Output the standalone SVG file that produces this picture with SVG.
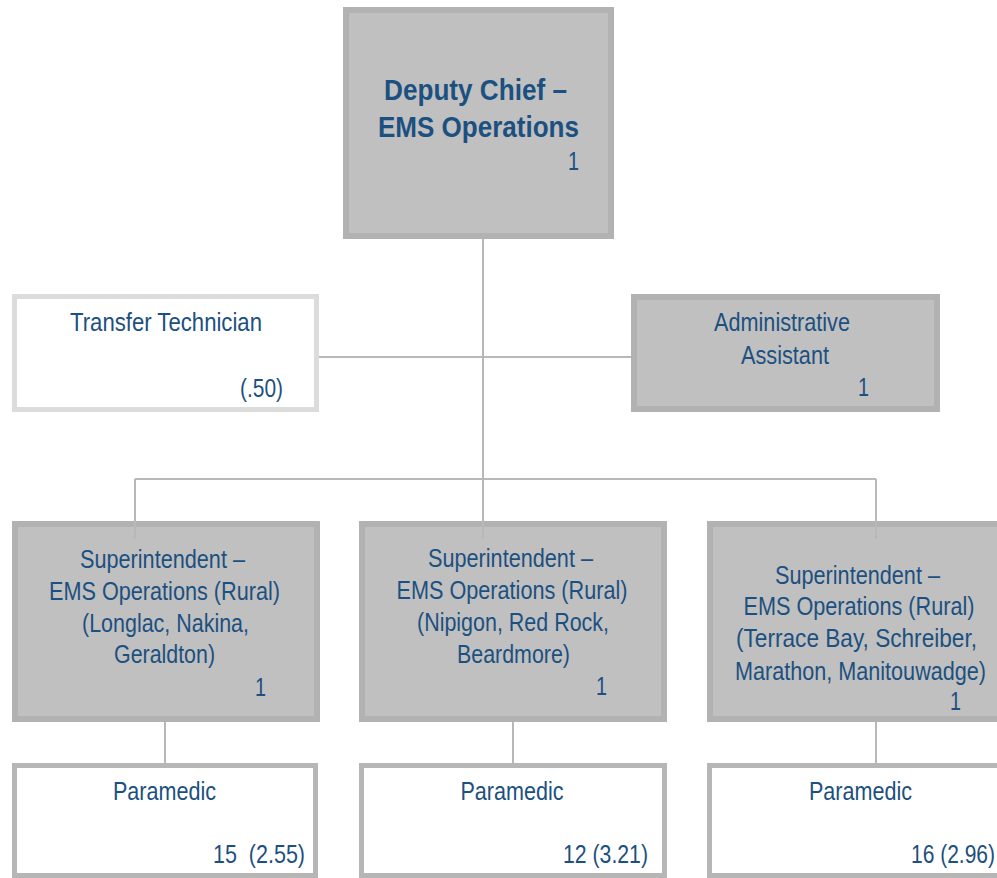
<svg xmlns="http://www.w3.org/2000/svg" width="997" height="878" viewBox="0 0 997 878">
<style>
text{font-family:"Liberation Sans Narrow","Arial Narrow","Liberation Sans",sans-serif;font-size:26px;fill:#1c5080}
.c{text-anchor:middle}
.r{text-anchor:end}
.b{font-weight:bold;font-size:29px}
.pre{white-space:pre}
.gray{fill:#c0c0c0;stroke:#b2b2b2;stroke-width:6}
.white{fill:#ffffff;stroke:#b6b6b6;stroke-width:5}
.light{fill:#ffffff;stroke:#dcdcdc;stroke-width:5}
.conn line{stroke:#b8b8b8;stroke-width:2;fill:none}
</style>
<g id="connectors" class="conn">
<line x1="483" y1="238" x2="483" y2="479"/>
<line x1="318" y1="357" x2="632" y2="357"/>
<line x1="135" y1="479" x2="876" y2="479"/>
</g>
<g id="deputy-chief">
<rect class="gray" x="346" y="10" width="265" height="226"/>
<text class="c b" x="475.5" y="100" textLength="183" lengthAdjust="spacingAndGlyphs">Deputy Chief –</text>
<text class="c b" x="478.5" y="137" textLength="201" lengthAdjust="spacingAndGlyphs">EMS Operations</text>
<text class="r" x="579" y="170" textLength="11" lengthAdjust="spacingAndGlyphs">1</text>
</g>
<g id="transfer-technician">
<rect class="light" x="14.5" y="296.5" width="302" height="113"/>
<text class="c" x="166" y="331" textLength="192" lengthAdjust="spacingAndGlyphs">Transfer Technician</text>
<text class="r" x="283" y="397" textLength="43" lengthAdjust="spacingAndGlyphs">(.50)</text>
</g>
<g id="administrative-assistant">
<rect class="gray" x="634" y="297" width="303" height="112"/>
<text class="c" x="782" y="331" textLength="136" lengthAdjust="spacingAndGlyphs">Administrative</text>
<text class="c" x="785" y="364" textLength="88" lengthAdjust="spacingAndGlyphs">Assistant</text>
<text class="r" x="869" y="396" textLength="11" lengthAdjust="spacingAndGlyphs">1</text>
</g>
<g id="superintendent-1">
<rect class="gray" x="15" y="524" width="302" height="195"/>
<text class="c" x="162.5" y="568" textLength="165" lengthAdjust="spacingAndGlyphs">Superintendent –</text>
<text class="c" x="164.5" y="600" textLength="231" lengthAdjust="spacingAndGlyphs">EMS Operations (Rural)</text>
<text class="c" x="165.5" y="632" textLength="167" lengthAdjust="spacingAndGlyphs">(Longlac, Nakina,</text>
<text class="c" x="164.5" y="663" textLength="101" lengthAdjust="spacingAndGlyphs">Geraldton)</text>
<text class="r" x="266" y="696" textLength="11" lengthAdjust="spacingAndGlyphs">1</text>
</g>
<g id="superintendent-2">
<rect class="gray" x="362" y="524" width="302" height="195"/>
<text class="c" x="510.5" y="567" textLength="165" lengthAdjust="spacingAndGlyphs">Superintendent –</text>
<text class="c" x="512" y="599" textLength="231" lengthAdjust="spacingAndGlyphs">EMS Operations (Rural)</text>
<text class="c" x="513" y="631" textLength="192" lengthAdjust="spacingAndGlyphs">(Nipigon, Red Rock,</text>
<text class="c" x="513.5" y="663" textLength="113" lengthAdjust="spacingAndGlyphs">Beardmore)</text>
<text class="r" x="607" y="695" textLength="11" lengthAdjust="spacingAndGlyphs">1</text>
</g>
<g id="superintendent-3">
<rect class="gray" x="710" y="524" width="302" height="195"/>
<text class="c" x="857.5" y="584" textLength="165" lengthAdjust="spacingAndGlyphs">Superintendent –</text>
<text class="c" x="859" y="615" textLength="231" lengthAdjust="spacingAndGlyphs">EMS Operations (Rural)</text>
<text class="c" x="856.5" y="647" textLength="241" lengthAdjust="spacingAndGlyphs">(Terrace Bay, Schreiber,</text>
<text class="c" x="860.5" y="680" textLength="251" lengthAdjust="spacingAndGlyphs">Marathon, Manitouwadge)</text>
<text class="r" x="961" y="710" textLength="11" lengthAdjust="spacingAndGlyphs">1</text>
</g>
<g id="connectors-2" class="conn">
<line x1="135" y1="479" x2="135" y2="539"/>
<line x1="483" y1="479" x2="483" y2="539"/>
<line x1="876" y1="479" x2="876" y2="539"/>
<line x1="165" y1="722" x2="165" y2="763"/>
<line x1="513" y1="722" x2="513" y2="763"/>
<line x1="876" y1="722" x2="876" y2="763"/>
</g>
<g id="paramedic-1">
<rect class="white" x="14.5" y="765.5" width="301" height="110"/>
<text class="c" x="164.5" y="800" textLength="103" lengthAdjust="spacingAndGlyphs">Paramedic</text>
<text class="r pre" x="305" y="863" textLength="92" lengthAdjust="spacingAndGlyphs">15  (2.55)</text>
</g>
<g id="paramedic-2">
<rect class="white" x="361.5" y="765.5" width="303" height="110"/>
<text class="c" x="512" y="800" textLength="103" lengthAdjust="spacingAndGlyphs">Paramedic</text>
<text class="r" x="648" y="863" textLength="85" lengthAdjust="spacingAndGlyphs">12 (3.21)</text>
</g>
<g id="paramedic-3">
<rect class="white" x="709.5" y="765.5" width="303" height="110"/>
<text class="c" x="860.5" y="800" textLength="103" lengthAdjust="spacingAndGlyphs">Paramedic</text>
<text class="r" x="995" y="863" textLength="84" lengthAdjust="spacingAndGlyphs">16 (2.96)</text>
</g>
</svg>
